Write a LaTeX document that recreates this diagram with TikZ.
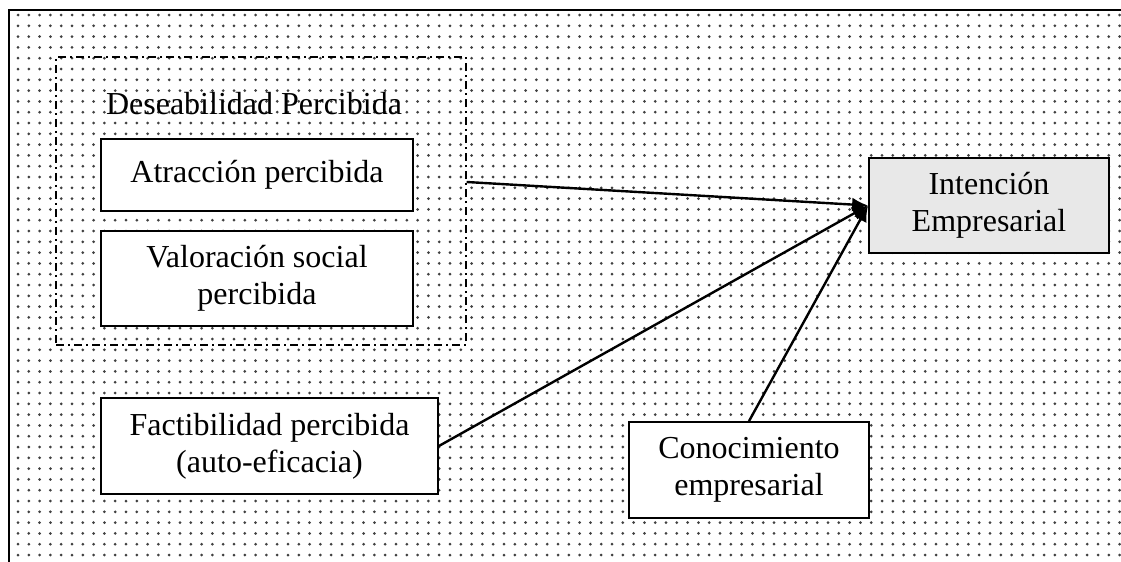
\documentclass[tikz,border=0pt]{standalone}
\usepackage{fontspec}
\setmainfont{Liberation Serif}
\usetikzlibrary{arrows.meta}
\tikzstyle{box}=[rectangle,fill=white,draw=black,line width=0.9pt,inner sep=0pt,align=center,anchor=center]
\tikzstyle{annot}=[align=center]
\tikzstyle{link}=[line width=1.2pt,-{Latex[length=8pt,width=7pt]}]
\tikzstyle{group}=[rectangle,draw=black,line width=0.7pt,dash pattern=on 4pt off 2pt on 1pt off 2pt,inner sep=0pt]

\begin{document}
\begin{tikzpicture}[x=0.5pt,y=-0.5pt,font=\fontsize{16}{18.5}\selectfont]
	\clip (0,0) rectangle (1121,562);
	\fill[white] (0,0) rectangle (1121,562);

	% dotted background
	\foreach \i in {0,...,102}{
		\foreach \j in {0,...,50}{
			\fill[black!75] ({18+10.8*\i},{15+10.8*\j}) circle (0.75pt);
		}
	}
	\draw[line width=1pt] (9,10) rectangle (1140,580);

	% desirability group
	\node[group, minimum width=205pt, minimum height=144pt](desir) at (261,201){};
	\node[annot, anchor=base](desirlabel) at (254,114){Deseabilidad Percibida};
	\node[box, minimum width=156pt, minimum height=36pt](attract) at (257,175){Atracción percibida};
	\node[box, minimum width=156pt, minimum height=47.5pt](social) at (257,278.5){Valoración social\\percibida};

	\node[box, minimum width=168.5pt, minimum height=48pt](feasib) at (269.5,446){Factibilidad percibida\\(auto-eficacia)};
	\node[box, minimum width=120pt, minimum height=48pt](knowl) at (749,470){Conocimiento\\empresarial};
	\node[box, fill=black!9, minimum width=120pt, minimum height=47.5pt](intent) at (989,205.5){Intención\\Empresarial};

	\coordinate (desirout) at (desir.east |- 0,182);
	\draw[link] (desirout) -- (intent.west);
	\draw[link] (feasib.east) -- (intent.west);
	\draw[link] (knowl.north) -- (intent.west);
\end{tikzpicture}
\end{document}
